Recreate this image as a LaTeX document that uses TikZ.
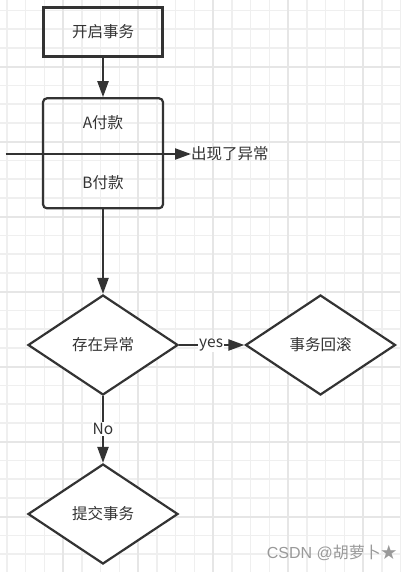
\documentclass[tikz,border=0pt]{standalone}
\usepackage{fontspec}
\setmainfont{Noto Sans CJK SC}
\setsansfont{Noto Sans CJK SC}
\newfontfamily\latinf{Liberation Sans}
\usetikzlibrary{shapes.geometric,arrows.meta}
\definecolor{ink}{HTML}{333333}
\definecolor{gminor}{HTML}{EFEFEF}
\definecolor{gmajor}{HTML}{E6E6E6}
\tikzset{
  stepbox/.style={draw=ink,line width=2.2pt,minimum width=119pt,minimum height=49pt,inner sep=0pt,font=\fontsize{15.5}{18}\selectfont,text=ink},
  roundbox/.style={draw=ink,line width=2.2pt,rounded corners=4pt,minimum width=120pt,minimum height=110pt,inner sep=0pt},
  decision/.style={draw=ink,line width=2.2pt,diamond,aspect=1.5,minimum width=150pt,minimum height=100pt,inner sep=0pt,font=\fontsize{15.5}{18}\selectfont,text=ink,fill=white},
  txt/.style={font=\fontsize{15.5}{18}\selectfont,text=ink,inner sep=0pt},
  conn/.style={draw=ink,line width=2.2pt,-{Triangle[length=16pt,width=11pt]}},
  lbl/.style={fill=white,font=\fontsize{15.5}{18}\selectfont,text=ink,inner sep=1pt},
  gridminor/.style={draw=gminor,line width=1.5pt},
  gridmajor/.style={draw=gmajor,line width=2pt},
}
\begin{document}
\begin{tikzpicture}[x=1pt,y=-1pt]
\useasboundingbox (0,0) rectangle (400,572);
\fill[white] (0,0) rectangle (400,572);
% grid
\foreach \i in {0,...,21} {
  \path[gridminor] ({6.75+18.75*\i},0) -- ({6.75+18.75*\i},572);
}
\foreach \j in {0,...,30} {
  \path[gridminor] (0,{10.4+18.75*\j}) -- (400,{10.4+18.75*\j});
}
\foreach \i in {0,...,5} {
  \path[gridmajor] ({63.0+75*\i},0) -- ({63.0+75*\i},572);
}
\foreach \j in {0,...,7} {
  \path[gridmajor] (0,{66.7+75*\j}) -- (400,{66.7+75*\j});
}
% nodes
\node[stepbox] (start) at (103,32) {开启事务};
\node[roundbox] (pay) at (103,153.3) {};
\node[txt] (pa) at (103,123) {A付款};
\node[txt] (pb) at (103,183) {B付款};
\coordinate (exin) at (5.5,154);
\node[txt,anchor=west] (ex) at (191,154) {出现了异常};
\node[decision] (chk) at (103,345) {存在异常};
\node[decision] (rb) at (320.5,345) {事务回滚};
\node[decision] (commit) at (103,514) {提交事务};
\node[font=\fontsize{16}{18}\selectfont,text=black!40,anchor=east,inner sep=0pt] (wm) at (397,553) {{\latinf CSDN @}胡萝卜★};
% connectors
\draw[conn] (start) -- (pay);
\draw[conn] (exin) -- (ex.west);
\draw[conn] (pay) -- (chk);
\draw[conn] (chk) -- node[lbl,pos=0.49] {yes} (rb);
\draw[conn] (chk) -- node[lbl,pos=0.49] {No} (commit);
\end{tikzpicture}
\end{document}
